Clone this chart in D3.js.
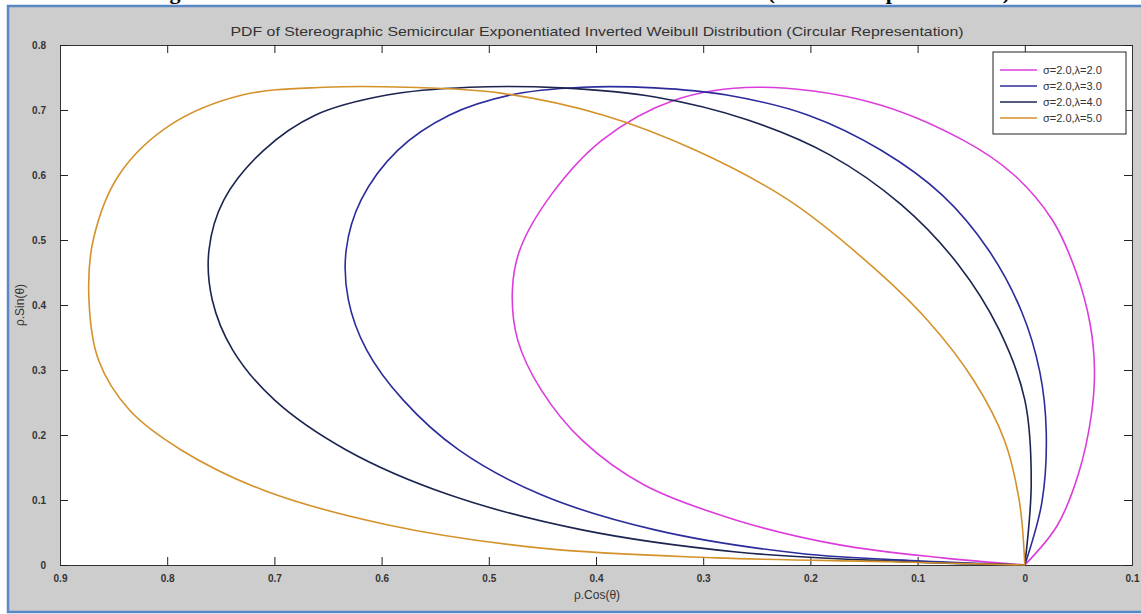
<!DOCTYPE html>
<html>
<head>
<meta charset="utf-8">
<script src="https://cdn.jsdelivr.net/npm/d3@7"></script>
<style>
  html, body { margin: 0; padding: 0; background: #ffffff; }
  svg { display: block; }
</style>
</head>
<body>
<svg id="chart" width="1141" height="614"></svg>
<script>
// ---------------- DATA ----------------
const seriesNames = ["σ=2.0,λ=2.0", "σ=2.0,λ=3.0", "σ=2.0,λ=4.0", "σ=2.0,λ=5.0"];
const seriesColors = ["#dc3cdc", "#2c2c9c", "#1c2450", "#d4922a"];

// points [ρcosθ, ρsinθ] along each closed curve
const curveL2 = [[0,0],[0.03,0.06],[0.05,0.14],[0.062,0.23],[0.065,0.3],[0.061,0.37],[0.048,0.45],[0.026,0.53],[-0.01,0.6],[-0.058,0.654],[-0.144,0.712],[-0.25,0.735],[-0.327,0.715],[-0.394,0.654],[-0.442,0.569],[-0.471,0.485],[-0.478,0.423],[-0.473,0.346],[-0.451,0.269],[-0.413,0.192],[-0.355,0.123],[-0.269,0.069],[-0.173,0.031],[-0.077,0.011],[0,0]];
const curveL3 = [[0,0],[0.016,0.097],[0.02,0.205],[0.014,0.297],[-0.003,0.39],[-0.034,0.485],[-0.077,0.569],[-0.134,0.638],[-0.202,0.692],[-0.278,0.723],[-0.345,0.734],[-0.413,0.735],[-0.48,0.723],[-0.537,0.692],[-0.585,0.638],[-0.619,0.562],[-0.633,0.485],[-0.631,0.408],[-0.614,0.331],[-0.58,0.254],[-0.528,0.177],[-0.451,0.108],[-0.345,0.054],[-0.211,0.018],[-0.096,0.006],[0,0]];
const curveL4 = [[0,0],[0.006,0.128],[0,0.254],[-0.024,0.362],[-0.062,0.462],[-0.115,0.554],[-0.182,0.631],[-0.259,0.685],[-0.345,0.72],[-0.432,0.734],[-0.518,0.735],[-0.595,0.723],[-0.662,0.692],[-0.71,0.638],[-0.747,0.562],[-0.761,0.485],[-0.758,0.408],[-0.739,0.331],[-0.7,0.254],[-0.633,0.177],[-0.537,0.108],[-0.413,0.054],[-0.269,0.02],[-0.125,0.006],[0,0]];
const curveL5 = [[0,0],[-0.005,0.097],[-0.019,0.192],[-0.048,0.285],[-0.091,0.377],[-0.149,0.469],[-0.221,0.562],[-0.307,0.638],[-0.393,0.692],[-0.489,0.726],[-0.576,0.735],[-0.653,0.735],[-0.73,0.723],[-0.797,0.677],[-0.845,0.6],[-0.869,0.5],[-0.873,0.408],[-0.864,0.315],[-0.835,0.238],[-0.787,0.177],[-0.71,0.115],[-0.595,0.062],[-0.451,0.026],[-0.288,0.011],[-0.125,0.005],[0,0]];
const seriesPoints = [curveL2, curveL3, curveL4, curveL5];

const xTickValues = [-0.9,-0.8,-0.7,-0.6,-0.5,-0.4,-0.3,-0.2,-0.1,0,0.1];
const xTickLabels = ["0.9","0.8","0.7","0.6","0.5","0.4","0.3","0.2","0.1","0","0.1"];
const yTickValues = [0,0.1,0.2,0.3,0.4,0.5,0.6,0.7,0.8];
const yTickLabels = ["0","0.1","0.2","0.3","0.4","0.5","0.6","0.7","0.8"];

const chartTitle = "PDF of Stereographic Semicircular Exponentiated Inverted Weibull Distribution (Circular Representation)";
const xLabel = "ρ.Cos(θ)";
const yLabel = "ρ.Sin(θ)";

// ---------------- LAYOUT ----------------
const svg = d3.select("#chart");
const W = 1141, H = 614;
const plot = {left: 60, right: 1132, top: 45, bottom: 565};

// figure caption remnants at the very top (cut off)
svg.append("text").attr("x", 150).attr("y", -1)
  .attr("font-family", "Liberation Serif, Times New Roman, serif").attr("font-weight", "bold")
  .attr("font-size", 22).attr("fill", "#000").text("Figure 3: PDF of SSEIW Distribution");
svg.append("text").attr("x", 1010).attr("y", -1).attr("text-anchor", "end")
  .attr("font-family", "Liberation Serif, Times New Roman, serif").attr("font-weight", "bold")
  .attr("font-size", 22).attr("fill", "#000").text("(Circular Representation)");

// gray figure background with blue picture frame
svg.append("rect").attr("x", 8).attr("y", 6).attr("width", W).attr("height", 606)
  .attr("fill", "#cdcdcd").attr("stroke", "#5b87c4").attr("stroke-width", 2.5);

const x = d3.scaleLinear().domain([-0.9, 0.1]).range([plot.left, plot.right]);
const y = d3.scaleLinear().domain([0, 0.8]).range([plot.bottom, plot.top]);

// white axes area
svg.append("rect").attr("x", plot.left).attr("y", plot.top)
  .attr("width", plot.right - plot.left).attr("height", plot.bottom - plot.top)
  .attr("fill", "#ffffff");

// ticks (inward) via d3 axes
const tickFont = "Arial, Liberation Sans, sans-serif";
const xAxis = d3.axisBottom(x).tickValues(xTickValues).tickSize(-8)
  .tickFormat((d, i) => xTickLabels[i]).tickPadding(10);
const gx = svg.append("g").attr("transform", `translate(0,${plot.bottom})`).call(xAxis);
const xTop = d3.axisTop(x).tickValues(xTickValues).tickSize(-8).tickFormat("");
const gxt = svg.append("g").attr("transform", `translate(0,${plot.top})`).call(xTop);
const yAxis = d3.axisLeft(y).tickValues(yTickValues).tickSize(-8)
  .tickFormat((d, i) => yTickLabels[i]).tickPadding(14);
const gy = svg.append("g").attr("transform", `translate(${plot.left},0)`).call(yAxis);
const yRight = d3.axisRight(y).tickValues(yTickValues).tickSize(-8).tickFormat("");
const gyr = svg.append("g").attr("transform", `translate(${plot.right},0)`).call(yRight);

[gx, gxt, gy, gyr].forEach(g => {
  g.select(".domain").attr("stroke", "#333").attr("stroke-width", 1);
  g.selectAll(".tick line").attr("stroke", "#222").attr("stroke-width", 1);
  g.selectAll(".tick text").attr("font-family", tickFont).attr("font-size", 10)
    .attr("font-weight", "bold").attr("fill", "#333");
});

// curves
const line = d3.line().x(d => x(d[0])).y(d => y(d[1])).curve(d3.curveCatmullRom.alpha(0.5));
seriesPoints.forEach((pts, i) => {
  svg.append("path").datum(pts).attr("d", line)
    .attr("fill", "none").attr("stroke", seriesColors[i]).attr("stroke-width", 1.6);
});

// title and axis labels
svg.append("text").attr("x", 597).attr("y", 36).attr("text-anchor", "middle")
  .attr("font-family", tickFont).attr("font-size", 13).attr("fill", "#333")
  .attr("textLength", 733).attr("lengthAdjust", "spacingAndGlyphs").text(chartTitle);
svg.append("text").attr("x", 597).attr("y", 599).attr("text-anchor", "middle")
  .attr("font-family", tickFont).attr("font-size", 12).attr("fill", "#333").text(xLabel);
svg.append("text").attr("transform", "translate(24,305) rotate(-90)").attr("text-anchor", "middle")
  .attr("font-family", tickFont).attr("font-size", 12).attr("fill", "#333").text(yLabel);

// legend
const lg = svg.append("g").attr("transform", "translate(993,52)");
lg.append("rect").attr("width", 133).attr("height", 82).attr("fill", "#fff")
  .attr("stroke", "#222").attr("stroke-width", 1);
seriesNames.forEach((name, i) => {
  const yy = 18 + i * 16;
  lg.append("line").attr("x1", 7).attr("x2", 44).attr("y1", yy).attr("y2", yy)
    .attr("stroke", seriesColors[i]).attr("stroke-width", 1.6);
  lg.append("text").attr("x", 50).attr("y", yy + 4).attr("font-family", tickFont)
    .attr("font-size", 11).attr("fill", "#333").text(name);
});
</script>
</body>
</html>
